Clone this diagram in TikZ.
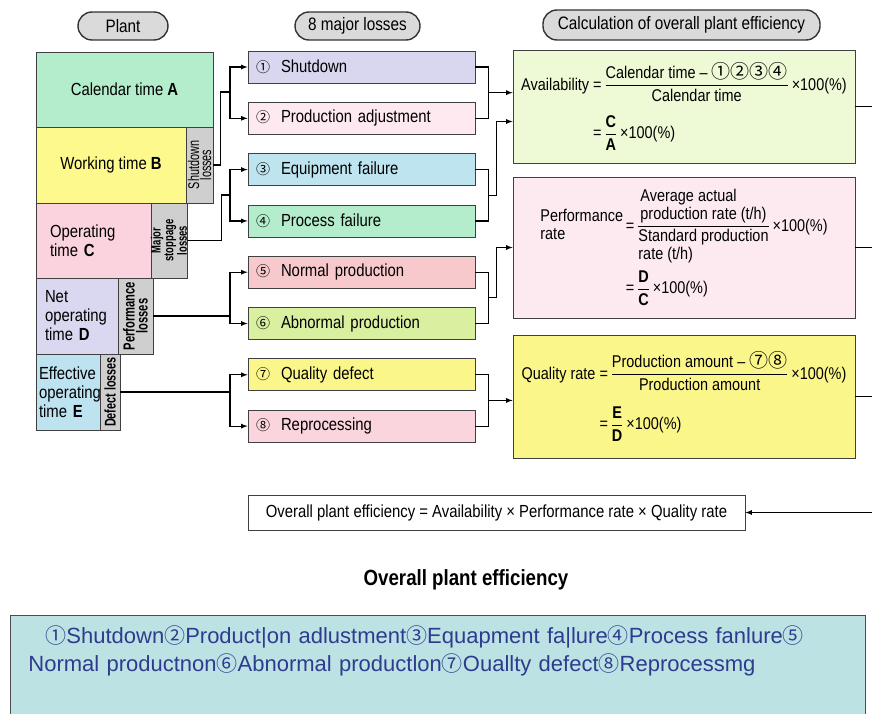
\documentclass[tikz,border=0pt]{standalone}
\usepackage{amsmath}
\usepackage{fontspec}
\setmainfont{Liberation Sans}[FakeStretch=0.85]
\newfontfamily\circfont{Noto Sans CJK SC}
\newfontfamily\tightfont{Liberation Sans}[FakeStretch=0.7]
\newfontfamily\notefont{Liberation Sans}
\usetikzlibrary{calc}
\usetikzlibrary{shapes,arrows}

\definecolor{pillgray}{HTML}{DADADA}
\definecolor{calgreen}{HTML}{B4EDCC}
\definecolor{workyellow}{HTML}{FDF98C}
\definecolor{operpink}{HTML}{FBD3DF}
\definecolor{netlav}{HTML}{DAD8F0}
\definecolor{effblue}{HTML}{BEE3F0}
\definecolor{lossgray}{HTML}{CFCFCF}
\definecolor{shutlav}{HTML}{D9D6EF}
\definecolor{adjpink}{HTML}{FDE9EF}
\definecolor{equipblue}{HTML}{BEE4F0}
\definecolor{procgreen}{HTML}{B4EDCC}
\definecolor{normpink}{HTML}{F7C9CC}
\definecolor{abnormgreen}{HTML}{D9F0A0}
\definecolor{qualyellow}{HTML}{FBF68A}
\definecolor{reprpink}{HTML}{FAD5DD}
\definecolor{availbox}{HTML}{EEF9D6}
\definecolor{perfbox}{HTML}{FDEAF0}
\definecolor{notebg}{HTML}{BCE2E4}
\definecolor{notetext}{HTML}{2E3B8E}

\newcommand\circnum[2][14]{{\circfont\fontsize{#1}{#1}\selectfont #2}}

\begin{document}
\begin{tikzpicture}[x=1pt, y=-1pt, >=latex,
    pill/.style={rectangle, rounded corners=14pt, draw=black!80, line width=1.4pt, fill=pillgray, minimum height=28, inner sep=0, font=\fontsize{18}{20}\selectfont},
    plantbox/.style={rectangle, draw=black!75, line width=0.8pt, inner sep=0, align=left, font=\fontsize{17.5}{19}\selectfont},
    sidebox/.style={rectangle, draw=black!75, line width=0.8pt, fill=lossgray, rotate=90, inner sep=0, align=center, font=\tightfont\fontsize{15.5}{12}\selectfont},
    lossbox/.style={rectangle, draw=black!75, line width=0.8pt, minimum height=32, text width=211, inner xsep=8, inner ysep=0, align=left, font=\fontsize{17.5}{19}\selectfont},
    calcbox/.style={rectangle, draw=black!75, line width=0.8pt, minimum width=342, inner sep=0, font=\fontsize{17}{17.5}\selectfont},
    link/.style={line width=1.2pt}
    ]
  \useasboundingbox (0,0) rectangle (872,714);
  % titles
  \node[pill, minimum width=90] (Plant) at (123,26) {Plant};
  \node[pill, minimum width=125] (Losses title) at (357.5,26) {8 major losses};
  \node[pill, minimum width=277, minimum height=30] (Calculation) at (681.5,25) {Calculation of overall plant efficiency};
  % plant
  \node[plantbox, fill=calgreen, minimum width=177, minimum height=75, align=center] (Calendar time) at (124.5,89.5) {Calendar time \textbf{A}};
  \node[plantbox, fill=workyellow, minimum width=150, minimum height=76, align=center] (Working time) at ($(Calendar time)+(-13.5,75.5)$) {Working time \textbf{B}};
  \node[sidebox, minimum width=76, minimum height=27] (Shutdown losses) at ($(Working time)+(88.5,0)$) {Shutdown\\losses};
  \node[plantbox, fill=operpink, text width=88, inner xsep=14, minimum height=75] (Operating time) at (94,240.5) {Operating\\time \textbf{C}};
  \node[sidebox, minimum width=75, minimum height=34, font=\tightfont\bfseries\fontsize{13.5}{10.5}\selectfont] (Major stoppage losses) at ($(Operating time)+(75,0)$) {Major\\stoppage\\losses};
  \node[plantbox, fill=netlav, text width=64, inner xsep=9, minimum height=76] (Net operating time) at (77,316) {Net\\operating\\time \textbf{D}};
  \node[sidebox, minimum width=76, minimum height=35, font=\tightfont\bfseries\fontsize{16}{13}\selectfont] (Performance losses) at ($(Net operating time)+(58.5,0)$) {Performance\\losses};
  \node[plantbox, fill=effblue, text width=58, inner xsep=3, minimum height=76] (Effective operating time) at (68,392) {Effective\\operating\\time \textbf{E}};
  \node[sidebox, minimum width=76, minimum height=20, font=\tightfont\bfseries\fontsize{15.5}{12}\selectfont] (Defect losses) at ($(Effective operating time)+(42,0)$) {Defect losses};
  % 8 major losses
  \node[lossbox, fill=shutlav] (Shutdown) at (361.5,67) {\circnum{①}\hspace{11pt}Shutdown};
  \node[lossbox, fill=adjpink] (Production adjustment) at ($(Shutdown)+(0,51.3)$) {\circnum{②}\hspace{11pt}Production adjustment};
  \node[lossbox, fill=equipblue] (Equipment failure) at ($(Production adjustment)+(0,51.3)$) {\circnum{③}\hspace{11pt}Equipment failure};
  \node[lossbox, fill=procgreen] (Process failure) at ($(Equipment failure)+(0,51.3)$) {\circnum{④}\hspace{11pt}Process failure};
  \node[lossbox, fill=normpink] (Normal production) at ($(Process failure)+(0,51.3)$) {\circnum{⑤}\hspace{11pt}Normal production};
  \node[lossbox, fill=abnormgreen] (Abnormal production) at ($(Normal production)+(0,51.3)$) {\circnum{⑥}\hspace{11pt}Abnormal production};
  \node[lossbox, fill=qualyellow] (Quality defect) at ($(Abnormal production)+(0,51.3)$) {\circnum{⑦}\hspace{11pt}Quality defect};
  \node[lossbox, fill=reprpink] (Reprocessing) at ($(Quality defect)+(0,51.3)$) {\circnum{⑧}\hspace{11pt}Reprocessing};
  % calculation
  \node[calcbox, fill=availbox, minimum height=113] (Availability) at (684,106.5) {%
    \begin{tabular}{@{}r@{\,}l@{}}
    Availability = & $\dfrac{\text{Calendar time – \circnum[19]{①②③④}}}{\text{Calendar time}}$\,×100(\%)\\[20pt]
    = & $\dfrac{\textbf{C}}{\textbf{A}}$\,×100(\%)
    \end{tabular}};
  \node[calcbox, fill=perfbox, minimum height=141] (Performance) at (684,247.5) {%
    \begin{tabular}{@{}l@{\,}c@{\,}l@{}}
    \begin{tabular}{@{}l@{}}Performance\\rate\end{tabular} & = & $\dfrac{\begin{tabular}{@{}l@{}}Average actual\\production rate (t/h)\end{tabular}}{\begin{tabular}{@{}l@{}}Standard production\\rate (t/h)\end{tabular}}$\,×100(\%)\\[34pt]
    & = & $\dfrac{\textbf{D}}{\textbf{C}}$\,×100(\%)
    \end{tabular}};
  \node[calcbox, fill=qualyellow, minimum height=123] (Quality rate) at (684,396.5) {%
    \begin{tabular}{@{}r@{\,}l@{}}
    Quality rate = & $\dfrac{\text{Production amount – \circnum[19]{⑦⑧}}}{\text{Production amount}}$\,×100(\%)\\[22pt]
    = & $\dfrac{\textbf{E}}{\textbf{D}}$\,×100(\%)
    \end{tabular}};
  \node[draw=black!75, line width=0.8pt, fill=white, minimum width=497, minimum height=35, font=\fontsize{17.5}{19}\selectfont] (Overall) at (496.5,512.5) {Overall plant efficiency = Availability × Performance rate × Quality rate};
  \node[font=\bfseries\fontsize{22}{24}\selectfont] (Overall label) at (466,580) {Overall plant efficiency};
  % notes
  \node[draw=black!70, line width=0.8pt, fill=notebg, anchor=north west, text width=819, inner xsep=18, inner ysep=10, align=left, text=notetext, font=\notefont\fontsize{22}{28}\selectfont] (Notes) at (10,615)
    {\hspace*{17pt}\circnum[21]{①}Shutdown\circnum[21]{②}Product|on adlustment\circnum[21]{③}Equapment fa|lure\circnum[21]{④}Process fanlure\circnum[21]{⑤}\\Normal productnon\circnum[21]{⑥}Abnormal productlon\circnum[21]{⑦}Ouallty defect\circnum[21]{⑧}Reprocessmg\\[40pt]\mbox{}};
  % arrows
  \coordinate (Fork 1) at (230,92);
  \coordinate (Fork 2) at (230,195);
  \coordinate (Fork 3) at (230,316);
  \coordinate (Fork 4) at (230,392);
  \draw[link] (Shutdown losses.south) -- ++(7,0) |- (Fork 1);
  \draw[link] (Major stoppage losses.south) -- ++(34,0) |- (Fork 2);
  \draw[link] (Performance losses.south) -- (Fork 3);
  \draw[link] (Defect losses.south) -- (Fork 4);
  \draw[link,->] (Fork 1) |- (Shutdown.west);
  \draw[link,->] (Fork 1) |- (Production adjustment.west);
  \draw[link,->] (Fork 2) |- (Equipment failure.west);
  \draw[link,->] (Fork 2) |- (Process failure.west);
  \draw[link,->] (Fork 3) |- (Normal production.west);
  \draw[link,->] (Fork 3) |- (Abnormal production.west);
  \draw[link,->] (Fork 4) |- (Quality defect.west);
  \draw[link,->] (Fork 4) |- (Reprocessing.west);
  \coordinate (Join 1) at ($(Shutdown.east)!0.5!(Production adjustment.east)+(13,0)$);
  \coordinate (Join 2) at ($(Equipment failure.east)!0.5!(Process failure.east)+(13,0)$);
  \coordinate (Join 3) at ($(Normal production.east)!0.5!(Abnormal production.east)+(13,0)$);
  \coordinate (Join 4) at ($(Quality defect.east)!0.5!(Reprocessing.east)+(13,0)$);
  \draw[link] (Shutdown.east) -| (Join 1) |- (Production adjustment.east);
  \draw[link] (Equipment failure.east) -| (Join 2) |- (Process failure.east);
  \draw[link] (Normal production.east) -| (Join 3) |- (Abnormal production.east);
  \draw[link] (Quality defect.east) -| (Join 4) |- (Reprocessing.east);
  \draw[link,->] (Join 1) -- (Join 1 -| Availability.west);
  \draw[link,->] (Join 2) -- ++(8,0) |- ($(Availability.west)+(0,15)$);
  \draw[link,->] (Join 3) -- ++(8,0) |- (Performance.west);
  \draw[link,->] (Join 4) -- (Join 4 -| Quality rate.west);
  \coordinate (Edge) at (873,512.5);
  \draw[link] (Availability.east) -- (Availability.east -| Edge) -- (Edge);
  \draw[link] (Performance.east) -- (Performance.east -| Edge);
  \draw[link] (Quality rate.east) -- (Quality rate.east -| Edge);
  \draw[link,->] (Edge) -- (Overall.east);
\end{tikzpicture}
\end{document}
